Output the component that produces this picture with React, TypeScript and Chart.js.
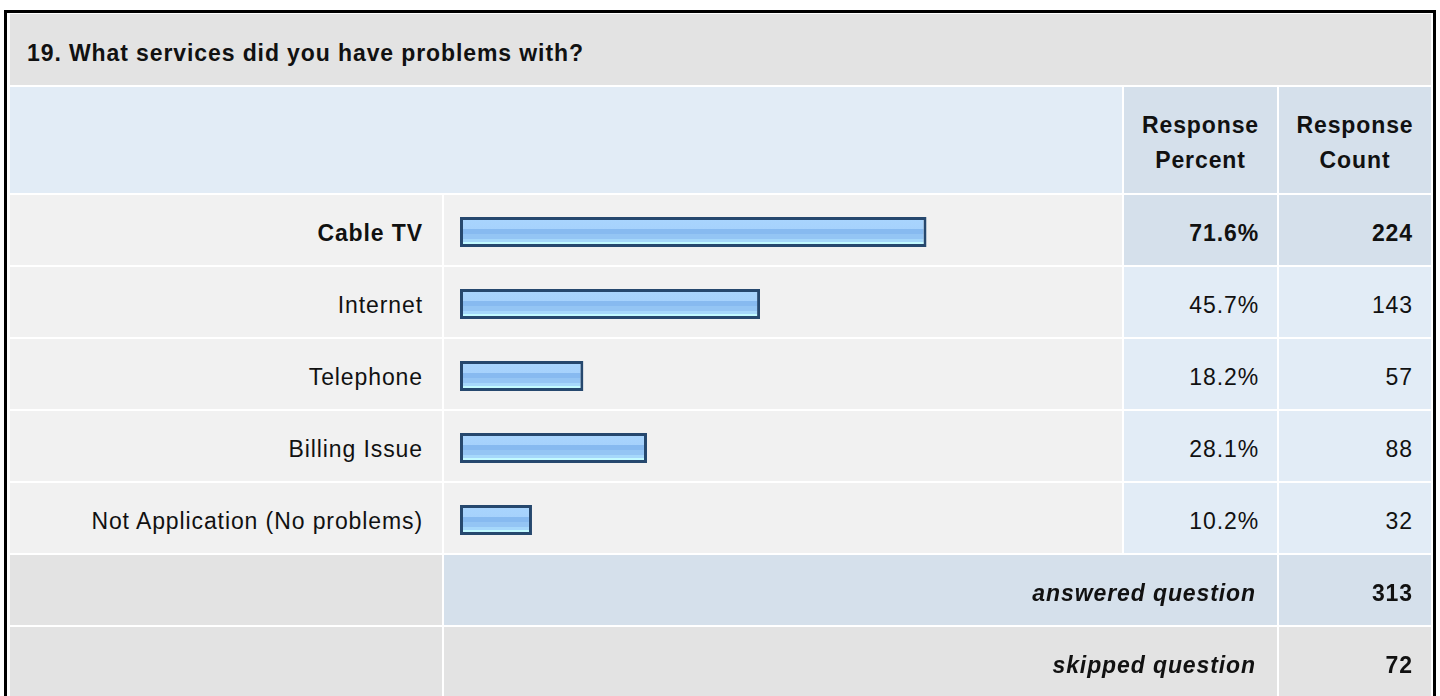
import React, { useEffect, useRef } from "react";
import { Chart, registerables } from "chart.js";

Chart.register(...registerables);

// ---------- data ----------
const questionTitle = "19. What services did you have problems with?";
const categories = ["Cable TV", "Internet", "Telephone", "Billing Issue", "Not Application (No problems)"];
const responsePercent = [71.6, 45.7, 18.2, 28.1, 10.2];
const responseCount = [224, 143, 57, 88, 32];
const headerLabels = ["Response Percent", "Response Count"];
const answeredQuestion = 313;
const skippedQuestion = 72;

// ---------- layout / style constants ----------
const FONT = "'Liberation Sans', Arial, Helvetica, sans-serif";
const FONT_SIZE = 23;
const LETTER = "0.9px";
const COL = {
  label: [10, 442],
  bar: [444, 1122],
  pct: [1124, 1277],
  cnt: [1279, 1431],
};
const TITLE_ROW = [14, 85];
const HEAD_ROW = [87, 193];
const ROW0 = 195;
const ROW_STEP = 72;
const ROW_H = 70;

const C_GRAY = "#e3e3e3";
const C_LIGHT = "#f1f1f1";
const C_BLUE = "#e2ecf6";
const C_BLUE_DARK = "#d5e0eb";

type CellProps = {
  x0: number; x1: number; y0: number; y1: number;
  bg: string; align?: "left" | "right" | "center";
  bold?: boolean; italic?: boolean; children?: React.ReactNode; pad?: number; dy?: number;
};

function Cell({ x0, x1, y0, y1, bg, align = "right", bold, italic, children, pad = 18, dy = 3 }: CellProps) {
  return (
    <div
      style={{
        position: "absolute",
        left: x0,
        top: y0,
        width: x1 - x0,
        height: y1 - y0,
        background: bg,
        display: "flex",
        alignItems: "center",
        justifyContent: align === "right" ? "flex-end" : align === "left" ? "flex-start" : "center",
        boxSizing: "border-box",
        paddingLeft: align === "left" ? pad : 0,
        paddingRight: align === "right" ? pad : 0,
        fontFamily: FONT,
        fontSize: FONT_SIZE,
        letterSpacing: LETTER,
        fontWeight: bold ? 700 : 400,
        fontStyle: italic ? "italic" : "normal",
        color: "#111",
        textAlign: align,
        lineHeight: "35px",
        whiteSpace: "pre-line",
      }}
    >
      {children !== undefined && <span style={{ position: "relative", top: dy }}>{children}</span>}
    </div>
  );
}

const STRIPES: [number, string][] = [
  [0, "#a9d5fe"],
  [0.4, "#a6d2fc"],
  [0.4, "#87baf0"],
  [0.57, "#87baf0"],
  [0.57, "#94c5f4"],
  [0.73, "#94c5f4"],
  [0.73, "#a6d8fb"],
  [0.82, "#a6d8fb"],
  [0.82, "#c2faff"],
  [1, "#c2faff"],
];

function BarChart() {
  const ref = useRef<HTMLCanvasElement | null>(null);
  useEffect(() => {
    if (!ref.current) return;
    const chart = new Chart(ref.current, {
      type: "bar",
      data: {
        labels: categories,
        datasets: [
          {
            data: responsePercent,
            base: -1,
            barThickness: 30,
            borderWidth: 3,
            borderColor: "#26486e",
            borderSkipped: false,
            inflateAmount: 0,
            backgroundColor: (ctx: any) => {
              const ch = ctx.chart;
              const ys = ch.scales && ch.scales.y;
              if (!ys || ctx.type !== "data" || !ch.chartArea) return "#a6d2fc";
              const cy = ys.getPixelForValue(ctx.dataIndex);
              if (!Number.isFinite(cy)) return "#a6d2fc";
              const top = cy - 15;
              const g = ch.ctx.createLinearGradient(0, top, 0, top + 30);
              STRIPES.forEach(([o, c]) => g.addColorStop(o, c));
              return g;
            },
          },
        ],
      },
      options: {
        indexAxis: "y",
        responsive: false,
        animation: false,
        devicePixelRatio: 1,
        layout: { padding: { left: 16, right: 13, top: 0, bottom: 0 } },
        plugins: { legend: { display: false }, tooltip: { enabled: false } },
        scales: {
          x: { type: "linear", min: -1, max: 100, display: false, grid: { display: false } },
          y: { type: "category", display: false, grid: { display: false }, offset: true },
        },
      },
    } as any);
    return () => chart.destroy();
  }, []);
  return (
    <canvas
      ref={ref}
      width={COL.bar[1] - COL.bar[0]}
      height={ROW_STEP * categories.length}
      style={{
        position: "absolute",
        left: COL.bar[0],
        top: ROW0 + 1,
        width: COL.bar[1] - COL.bar[0],
        height: ROW_STEP * categories.length,
      }}
    />
  );
}

export default function App() {
  const maxIdx = responseCount.indexOf(Math.max(...responseCount));
  const rowsEnd = ROW0 + ROW_STEP * categories.length;
  const ansY0 = rowsEnd;
  const skipY0 = rowsEnd + ROW_STEP;
  return (
    <div
      style={{
        position: "fixed",
        left: 0,
        top: 0,
        width: 1440,
        height: 696,
        overflow: "hidden",
        background: "#fff",
      }}
    >
      <div
        style={{
          position: "absolute",
          left: 4,
          top: 10,
          width: 1432,
          height: 800,
          border: "3px solid #000",
          boxSizing: "border-box",
        }}
      />
      <Cell x0={COL.label[0]} x1={COL.cnt[1]} y0={TITLE_ROW[0]} y1={TITLE_ROW[1]} bg={C_GRAY} align="left" bold pad={17} dy={4}>
        {questionTitle}
      </Cell>
      <Cell x0={COL.label[0]} x1={COL.bar[1]} y0={HEAD_ROW[0]} y1={HEAD_ROW[1]} bg={C_BLUE} />
      <Cell x0={COL.pct[0]} x1={COL.pct[1]} y0={HEAD_ROW[0]} y1={HEAD_ROW[1]} bg={C_BLUE_DARK} align="center" bold>
        {headerLabels[0].replace(" ", "\n")}
      </Cell>
      <Cell x0={COL.cnt[0]} x1={COL.cnt[1]} y0={HEAD_ROW[0]} y1={HEAD_ROW[1]} bg={C_BLUE_DARK} align="center" bold>
        {headerLabels[1].replace(" ", "\n")}
      </Cell>
      {categories.map((cat, i) => {
        const y0 = ROW0 + i * ROW_STEP;
        const y1 = y0 + ROW_H;
        const hi = i === maxIdx;
        return (
          <React.Fragment key={cat}>
            <Cell x0={COL.label[0]} x1={COL.label[1]} y0={y0} y1={y1} bg={C_LIGHT} bold={hi} pad={19}>
              {cat}
            </Cell>
            <Cell x0={COL.bar[0]} x1={COL.bar[1]} y0={y0} y1={y1} bg={C_LIGHT} />
            <Cell x0={COL.pct[0]} x1={COL.pct[1]} y0={y0} y1={y1} bg={hi ? C_BLUE_DARK : C_BLUE} bold={hi}>
              {responsePercent[i].toFixed(1) + "%"}
            </Cell>
            <Cell x0={COL.cnt[0]} x1={COL.cnt[1]} y0={y0} y1={y1} bg={hi ? C_BLUE_DARK : C_BLUE} bold={hi}>
              {String(responseCount[i])}
            </Cell>
          </React.Fragment>
        );
      })}
      <BarChart />
      <Cell x0={COL.label[0]} x1={COL.label[1]} y0={ansY0} y1={ansY0 + ROW_H} bg={C_GRAY} />
      <Cell x0={COL.bar[0]} x1={COL.pct[1]} y0={ansY0} y1={ansY0 + ROW_H} bg={C_BLUE_DARK} bold italic pad={21}>
        answered question
      </Cell>
      <Cell x0={COL.cnt[0]} x1={COL.cnt[1]} y0={ansY0} y1={ansY0 + ROW_H} bg={C_BLUE_DARK} bold>
        {String(answeredQuestion)}
      </Cell>
      <Cell x0={COL.label[0]} x1={COL.label[1]} y0={skipY0} y1={skipY0 + ROW_H} bg={C_GRAY} />
      <Cell x0={COL.bar[0]} x1={COL.pct[1]} y0={skipY0} y1={skipY0 + ROW_H} bg={C_GRAY} bold italic pad={21}>
        skipped question
      </Cell>
      <Cell x0={COL.cnt[0]} x1={COL.cnt[1]} y0={skipY0} y1={skipY0 + ROW_H} bg={C_GRAY} bold>
        {String(skippedQuestion)}
      </Cell>
    </div>
  );
}
